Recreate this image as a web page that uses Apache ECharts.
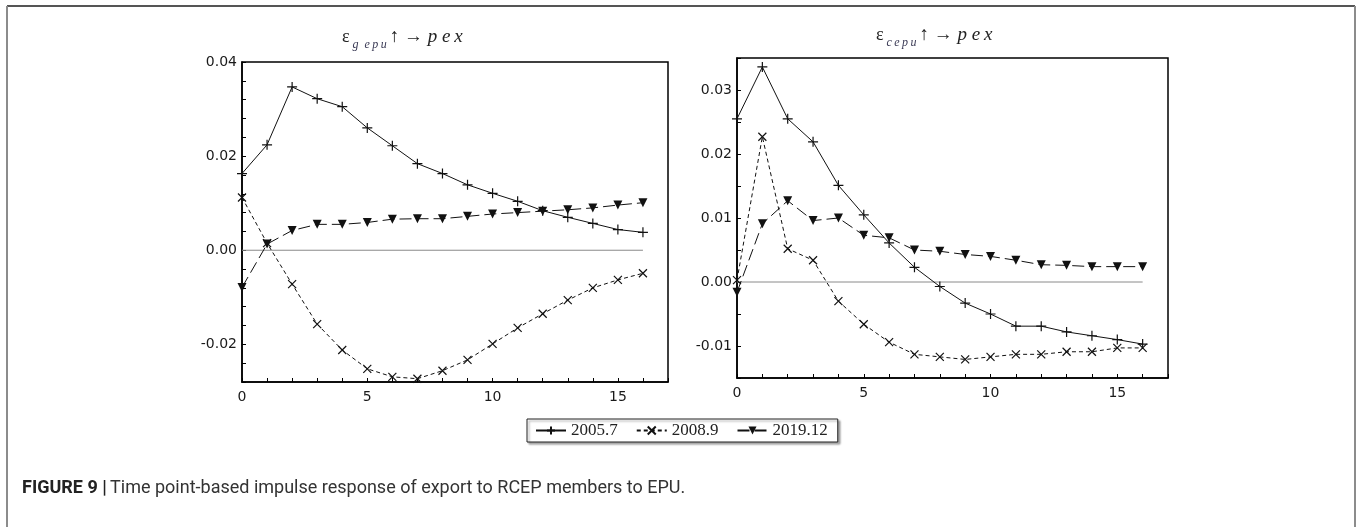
<!DOCTYPE html>
<html>
<head>
<meta charset="utf-8">
<script src="https://cdn.jsdelivr.net/npm/echarts@6/dist/echarts.min.js"></script>
<style>
  html, body { margin: 0; padding: 0; background: #fff; }
  #chart { width: 1357px; height: 527px; }
</style>
</head>
<body>
<div id="chart"></div>
<script>
// Horizon (periods after the shock)
const periods = [0, 1, 2, 3, 4, 5, 6, 7, 8, 9, 10, 11, 12, 13, 14, 15, 16];
const seriesNames = ['2005.7', '2008.9', '2019.12'];

// Panel 1: response of p ex to g-epu shock
const gepu_2005_7 = [0.0163, 0.0224, 0.0347, 0.0322, 0.0305, 0.0260, 0.0222, 0.0184, 0.0163, 0.0139, 0.0121, 0.0104, 0.0084, 0.0070, 0.0057, 0.0044, 0.0038];
const gepu_2008_9 = [0.0112, 0.0015, -0.0072, -0.0157, -0.0212, -0.0252, -0.0269, -0.0273, -0.0256, -0.0233, -0.0199, -0.0165, -0.0135, -0.0106, -0.0080, -0.0063, -0.0049];
const gepu_2019_12 = [-0.0079, 0.0013, 0.0042, 0.0055, 0.0055, 0.0059, 0.0066, 0.0067, 0.0067, 0.0072, 0.0077, 0.0080, 0.0083, 0.0086, 0.0090, 0.0096, 0.0101];

// Panel 2: response of p ex to c-epu shock
const cepu_2005_7 = [0.0255, 0.0336, 0.0255, 0.0219, 0.0151, 0.0105, 0.0061, 0.0023, -0.0007, -0.0033, -0.0050, -0.0069, -0.0069, -0.0078, -0.0084, -0.0090, -0.0097];
const cepu_2008_9 = [0.0003, 0.0227, 0.0052, 0.0034, -0.0030, -0.0066, -0.0094, -0.0113, -0.0117, -0.0121, -0.0117, -0.0113, -0.0113, -0.0109, -0.0109, -0.0103, -0.0103];
const cepu_2019_12 = [-0.0016, 0.0091, 0.0127, 0.0096, 0.0100, 0.0073, 0.0069, 0.0050, 0.0048, 0.0043, 0.0040, 0.0034, 0.0027, 0.0026, 0.0024, 0.0024, 0.0024];

// Axis settings
const xTickLabels = [0, 5, 10, 15];
const yRangeLeft = { min: -0.028, max: 0.04, interval: 0.004, labelStep: 0.02 };
const yRangeRight = { min: -0.015, max: 0.035, interval: 0.005, labelStep: 0.01 };

const SERIF = '"Liberation Serif", "DejaVu Serif", serif';
const SANS = '"DejaVu Sans", Verdana, sans-serif';

const plusPath = 'path://M0,5L10,5M5,0L5,10';
const crossPath = 'path://M0,0L10,10M10,0L0,10';
const triPath = 'path://M0,0L10,0L5,9Z';

const styles = {
  '2005.7': { symbol: plusPath, size: 10, type: 'solid', stroke: true },
  '2008.9': { symbol: crossPath, size: 8, type: [4, 3], stroke: true },
  '2019.12': { symbol: triPath, size: 9, type: [12, 5], stroke: false }
};

function pairs(vals) { return periods.map((p, i) => [p, vals[i]]); }

function makeSeries(name, vals, idx) {
  const s = styles[name];
  return {
    name: name,
    type: 'line',
    xAxisIndex: idx,
    yAxisIndex: idx,
    data: pairs(vals),
    symbol: s.symbol,
    symbolSize: s.size,
    showAllSymbol: true,
    animation: false,
    lineStyle: { color: '#111', width: 1, type: s.type },
    itemStyle: s.stroke
      ? { color: 'rgba(0,0,0,0)', borderColor: '#111', borderWidth: 1.2 }
      : { color: '#111', borderColor: '#111', borderWidth: 0 },
    z: 3
  };
}

function zeroLine(idx) {
  return {
    name: 'zero' + idx,
    type: 'line',
    xAxisIndex: idx,
    yAxisIndex: idx,
    data: [[periods[0], 0], [periods[periods.length - 1], 0]],
    symbol: 'none',
    silent: true,
    animation: false,
    lineStyle: { color: '#8a8a8a', width: 1 },
    z: 1
  };
}

function isMultiple(v, step) {
  const r = v / step;
  return Math.abs(r - Math.round(r)) < 1e-6;
}

function xAxis(idx) {
  return {
    type: 'value',
    gridIndex: idx,
    min: 0, max: 17, interval: 1,
    axisLine: { show: true, onZero: false, lineStyle: { color: '#000', width: 1.5 } },
    axisTick: { show: true, inside: true, length: 4, lineStyle: { color: '#000', width: 1 } },
    splitLine: { show: false },
    axisLabel: {
      margin: 8,
      color: '#1a1a1a',
      fontFamily: SANS,
      fontSize: 14,
      formatter: v => (xTickLabels.indexOf(v) >= 0 ? String(v) : '')
    }
  };
}

function yAxis(idx, r) {
  return {
    type: 'value',
    gridIndex: idx,
    min: r.min, max: r.max, interval: r.interval,
    axisLine: { show: true, onZero: false, lineStyle: { color: '#000', width: 1.5 } },
    axisTick: { show: true, inside: true, length: 4, lineStyle: { color: '#000', width: 1 } },
    splitLine: { show: false },
    axisLabel: {
      margin: 5,
      color: '#1a1a1a',
      fontFamily: SANS,
      fontSize: 14,
      showMaxLabel: true,
      formatter: v => (isMultiple(v, r.labelStep) ? v.toFixed(2) : '')
    }
  };
}

// Panel titles: main glyphs sit in a tall line box, the subscript hugs its bottom
const titleRich = {
  e: { fontFamily: SERIF, fontSize: 18, fontWeight: 'normal', color: '#222', lineHeight: 28 },
  sub: { fontFamily: SERIF, fontSize: 12, fontWeight: 'normal', fontStyle: 'italic', color: '#3a3a55', verticalAlign: 'bottom', lineHeight: 12, padding: [0, 3, 0, 3] },
  n: { fontFamily: SERIF, fontSize: 19, fontWeight: 'normal', color: '#222', lineHeight: 28 },
  i: { fontFamily: SERIF, fontSize: 19, fontWeight: 'normal', fontStyle: 'italic', color: '#222', lineHeight: 28 }
};

const option = {
  backgroundColor: '#fff',
  animation: false,
  title: [
    { left: 342, top: 23, padding: 0, text: '{e|ε}{sub|g\u2002e\u2009p\u2009u}{n|↑ → }{i|p e\u2009x}', textStyle: { fontWeight: 'normal', rich: titleRich } },
    { left: 876, top: 21, padding: 0, text: '{e|ε}{sub|c\u2009e\u2009p\u2009u}{n|↑ → }{i|p e\u2009x}', textStyle: { fontWeight: 'normal', rich: titleRich } }
  ],
  legend: {
    data: seriesNames,
    left: 527, top: 419,
    padding: [3, 10, 3, 8],
    itemGap: 18,
    itemWidth: 30,
    itemHeight: 10,
    borderColor: '#222',
    borderWidth: 1,
    shadowColor: 'rgba(0,0,0,0.35)',
    shadowOffsetX: 2,
    shadowOffsetY: 2,
    shadowBlur: 2,
    backgroundColor: '#fff',
    textStyle: { fontFamily: SERIF, fontSize: 17, color: '#222' }
  },
  grid: [
    { left: 242, top: 62, width: 426, height: 320, show: true, borderColor: '#000', borderWidth: 1.5, backgroundColor: 'transparent' },
    { left: 737, top: 58, width: 431, height: 320, show: true, borderColor: '#000', borderWidth: 1.5, backgroundColor: 'transparent' }
  ],
  xAxis: [xAxis(0), xAxis(1)],
  yAxis: [yAxis(0, yRangeLeft), yAxis(1, yRangeRight)],
  series: [
    zeroLine(0),
    makeSeries('2005.7', gepu_2005_7, 0),
    makeSeries('2008.9', gepu_2008_9, 0),
    makeSeries('2019.12', gepu_2019_12, 0),
    zeroLine(1),
    makeSeries('2005.7', cepu_2005_7, 1),
    makeSeries('2008.9', cepu_2008_9, 1),
    makeSeries('2019.12', cepu_2019_12, 1)
  ],
  graphic: [
    // figure frame
    { type: 'line', shape: { x1: 7, y1: 6, x2: 1355, y2: 6 }, style: { stroke: '#555', lineWidth: 2 }, silent: true },
    { type: 'line', shape: { x1: 7, y1: 6, x2: 7, y2: 527 }, style: { stroke: '#8c8c8c', lineWidth: 2 }, silent: true },
    { type: 'line', shape: { x1: 1355, y1: 6, x2: 1355, y2: 527 }, style: { stroke: '#8c8c8c', lineWidth: 2 }, silent: true },
    // caption
    {
      type: 'text', left: 22, top: 479, silent: true,
      style: {
        text: '{b|FIGURE 9 |} {n|Time point-based impulse response of export to RCEP members to EPU.}',
        rich: {
          b: { fontFamily: 'Roboto, "Open Sans", sans-serif', fontWeight: 'bold', fontSize: 18, fill: '#222' },
          n: { fontFamily: 'Roboto, "Open Sans", sans-serif', fontSize: 18, fill: '#333' }
        }
      }
    }
  ]
};

const chart = echarts.init(document.getElementById('chart'), null, { renderer: 'canvas' });
chart.setOption(option);
</script>
</body>
</html>
